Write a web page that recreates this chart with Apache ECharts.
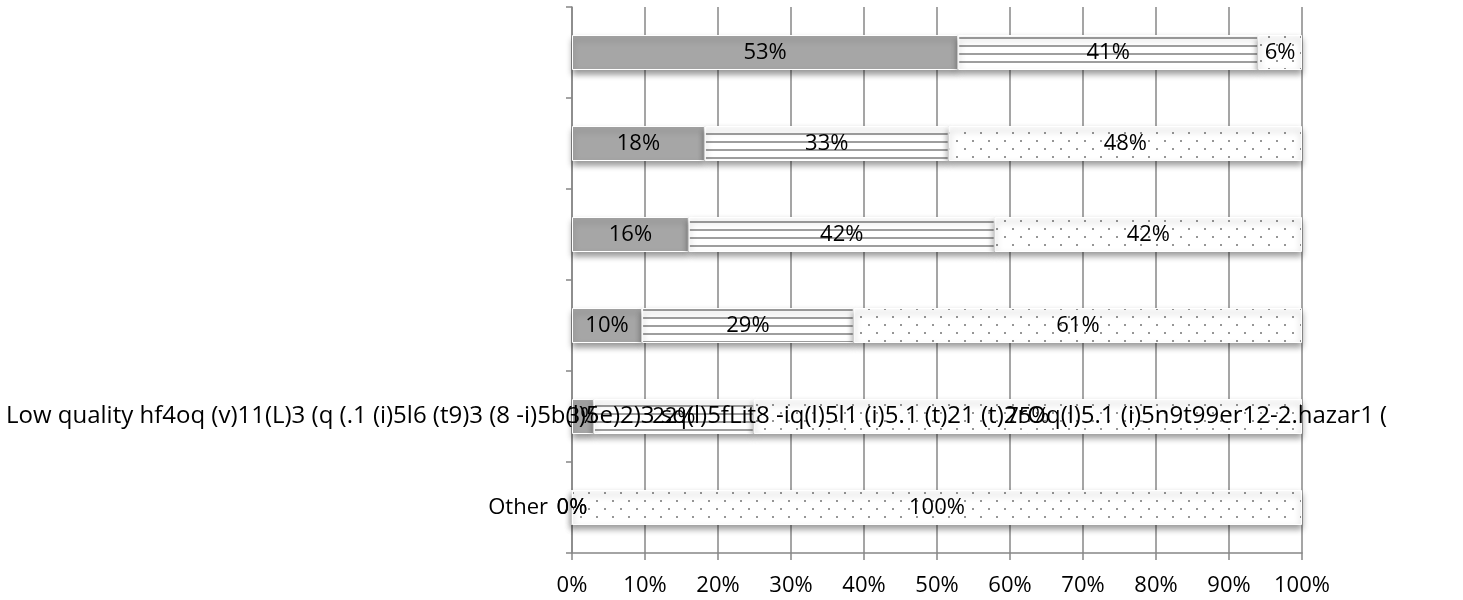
<!DOCTYPE html>
<html>
<head>
<meta charset="utf-8">
<script src="https://cdn.jsdelivr.net/npm/echarts@6/dist/echarts.min.js"></script>
<style>
  html, body { margin: 0; padding: 0; background: #fff; }
  #chart { width: 1463px; height: 600px; }
</style>
</head>
<body>
<div id="chart"></div>
<script>
// ---- data ----
const categories = [
  '', '', '', '',
  'Low quality hf4oq (v)11(L)3 (q (.1 (i)5l6 (t9)3 (8 -i)5b(l)5e)2)3 sq(l)5fLit8 -iq(l)5l1 (i)5.1 (t)21 (t)2rOq(l)5.1 (i)5n9t99er12-2.hazar1 (',
  'Other'
];
const longLabelIndex = 4;
const solidValues  = [52.9, 18.2, 16.0,  9.6,  3.0,   0];
const linedValues  = [41.1, 33.4, 41.9, 29.0, 21.9,   0];
const dottedValues = [ 6.0, 48.4, 42.1, 61.4, 75.1, 100];
const xTickValues  = [0, 10, 20, 30, 40, 50, 60, 70, 80, 90, 100];

// ---- patterns ----
function linePattern() {
  const c = document.createElement('canvas');
  c.width = 8; c.height = 8;
  const g = c.getContext('2d');
  g.fillStyle = '#ffffff'; g.fillRect(0, 0, 8, 8);
  g.fillStyle = '#9e9e9e'; g.fillRect(0, 5, 8, 2);
  return c;
}
function dotPattern() {
  const c = document.createElement('canvas');
  c.width = 16; c.height = 16;
  const g = c.getContext('2d');
  g.fillStyle = '#ffffff'; g.fillRect(0, 0, 16, 16);
  g.fillStyle = '#969696';
  g.fillRect(4, 4, 2, 2);
  g.fillRect(12, 12, 2, 2);
  return c;
}

const FONT = 'Open Sans';
const FS = 22;
const LONG_FS = 24;
const axisGray = '#878787';

const chart = echarts.init(document.getElementById('chart'));

const labelCfg = {
  show: true,
  position: 'inside',
  color: '#000',
  fontFamily: FONT,
  fontSize: FS,
  formatter: p => Math.round(p.value) + '%'
};
const baseItem = {
  borderColor: '#ffffff',
  borderWidth: 1,
  shadowColor: 'rgba(0,0,0,0.4)',
  shadowBlur: 6,
  shadowOffsetY: 4
};

chart.setOption({
  animation: false,
  backgroundColor: '#ffffff',
  grid: { left: 572, right: 161, top: 7, bottom: 47, containLabel: false },
  xAxis: {
    type: 'value',
    min: xTickValues[0],
    max: xTickValues[xTickValues.length - 1],
    interval: xTickValues[1] - xTickValues[0],
    axisLine: { show: true, lineStyle: { color: axisGray, width: 1.5 } },
    axisTick: { show: true, length: 7, lineStyle: { color: axisGray, width: 1.5 } },
    splitLine: { show: true, lineStyle: { color: axisGray, width: 1.5 } },
    axisLabel: {
      formatter: '{value}%',
      color: '#000',
      fontFamily: FONT,
      fontSize: FS,
      margin: 22
    }
  },
  yAxis: [
    {
      type: 'category',
      data: categories,
      inverse: true,
      axisLine: { show: true, lineStyle: { color: axisGray, width: 1.5 } },
      axisTick: { show: true, length: 6, lineStyle: { color: axisGray, width: 1.5 } },
      axisLabel: {
        color: '#000',
        fontFamily: FONT,
        fontSize: FS,
        margin: 24,
        formatter: (v, i) => (i === longLabelIndex ? '' : v)
      }
    },
    {
      type: 'category',
      data: categories,
      inverse: true,
      position: 'left',
      z: 10,
      axisLine: { show: false },
      axisTick: { show: false },
      splitLine: { show: false },
      axisLabel: {
        color: '#000',
        fontFamily: FONT,
        fontSize: LONG_FS,
        align: 'left',
        margin: 566,
        overflow: 'none',
        formatter: (v, i) => (i === longLabelIndex ? v : '')
      }
    }
  ],
  series: [
    {
      type: 'bar', stack: 'total', yAxisIndex: 0, barWidth: 35,
      data: solidValues,
      itemStyle: Object.assign({ color: '#a6a6a6' }, baseItem),
      label: labelCfg
    },
    {
      type: 'bar', stack: 'total', yAxisIndex: 0, barWidth: 35,
      data: linedValues,
      itemStyle: Object.assign({ color: { image: linePattern(), repeat: 'repeat' } }, baseItem),
      label: labelCfg
    },
    {
      type: 'bar', stack: 'total', yAxisIndex: 0, barWidth: 35,
      data: dottedValues,
      itemStyle: Object.assign({ color: { image: dotPattern(), repeat: 'repeat' } }, baseItem),
      label: labelCfg
    }
  ]
});
</script>
</body>
</html>
